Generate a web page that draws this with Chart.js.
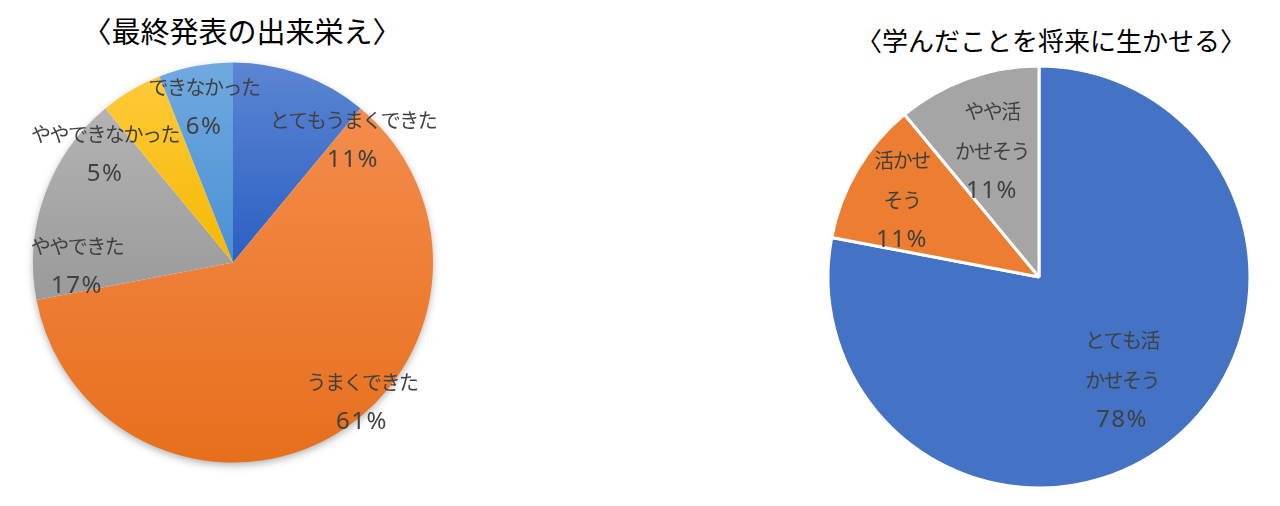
<!DOCTYPE html>
<html lang="ja">
<head>
<meta charset="UTF-8">
<title>最終発表の出来栄え / 学んだことを将来に生かせる</title>
<script src="https://cdn.jsdelivr.net/npm/chart.js"></script>
<style>
    body {
        margin: 0;
        background: #fff;
        font-family: 'Noto Sans CJK JP', 'Noto Sans', sans-serif;
    }
    .stage {
        position: relative;
        width: 1280px;
        height: 506px;
        overflow: hidden;
    }
    .title {
        position: absolute;
        color: #000;
        white-space: nowrap;
        transform: translate(-50%, -50%);
    }
    .pie-box {
        position: absolute;
    }
</style>
</head>
<body>
<div class="stage">
    <div class="title" style="left:242px; top:30px; font-size:29px;">〈最終発表の出来栄え〉</div>
    <div class="title" style="left:1051px; top:39px; font-size:26px;">〈学んだことを将来に生かせる〉</div>

    <div class="pie-box" style="left:0; top:40px; width:466px; height:445px;">
        <canvas id="resultChart"></canvas>
    </div>
    <div class="pie-box" style="left:809px; top:52px; width:460px; height:450px;">
        <canvas id="futureChart"></canvas>
    </div>
</div>

<script>
    // 最終発表の出来栄え
    const resultLabels = ['とてもうまくできた', 'うまくできた', 'ややできた', 'ややできなかった', 'できなかった'];
    const resultValues = [11, 61, 17, 5, 6];

    // 学んだことを将来に生かせる
    const futureLabels = ['とても活かせそう', '活かせそう', 'やや活かせそう'];
    const futureValues = [78, 11, 11];
    // how the category names wrap inside the slices
    const futureLabelLines = [['とても活', 'かせそう'], ['活かせ', 'そう'], ['やや活', 'かせそう']];

    // label block centres, relative to the pie centre
    const resultLabelOffsets = [[120, -122], [129, 140], [-156, 4], [-128, -108], [-29, -155]];
    const futureLabelOffsets = [[83, 103], [-137, -77], [-47, -126]];

    // light (top) / dark (bottom) shades for the left pie's gradient
    const resultShades = [
        ['#5c86d3', '#2c5fc4'],
        ['#f48c4c', '#e76f1c'],
        ['#b3b3b3', '#9a9a9a'],
        ['#ffca3a', '#f5b800'],
        ['#70a9e0', '#4b90d4']
    ];
    const futureColors = ['#4472c4', '#ed7d31', '#a5a5a5'];

    const labelColor = '#404040';

    function percent(values, i) {
        const total = values.reduce((a, b) => a + b, 0);
        return Math.round(values[i] / total * 100) + '%';
    }

    // vertical gradient fitted to each slice's own height
    function sliceGradient(context) {
        const chart = context.chart;
        const area = chart.chartArea;
        const shade = resultShades[context.dataIndex];
        if (!area) return shade[1];
        const data = context.dataset.data;
        const total = data.reduce((a, b) => a + b, 0);
        let before = 0;
        for (let i = 0; i < context.dataIndex; i++) before += data[i];
        const a0 = before / total * Math.PI * 2;
        const a1 = (before + data[context.dataIndex]) / total * Math.PI * 2;
        const cx = (area.left + area.right) / 2;
        const cy = (area.top + area.bottom) / 2;
        const r = context.dataset.radius;
        const ys = [cy, cy - r * Math.cos(a0), cy - r * Math.cos(a1)];
        if (a0 <= 0.0001 || a1 >= Math.PI * 2 - 0.0001) ys.push(cy - r);
        if (a0 <= Math.PI && a1 >= Math.PI) ys.push(cy + r);
        const g = chart.ctx.createLinearGradient(0, Math.min(...ys), 0, Math.max(...ys));
        g.addColorStop(0, shade[0]);
        g.addColorStop(1, shade[1]);
        return g;
    }

    // writes the category name and percentage inside / next to each slice
    const sliceLabels = {
        id: 'sliceLabels',
        afterDatasetsDraw(chart, args, opts) {
            const ctx = chart.ctx;
            const meta = chart.getDatasetMeta(0);
            ctx.save();
            ctx.fillStyle = labelColor;
            ctx.textAlign = 'center';
            ctx.textBaseline = 'middle';
            meta.data.forEach((arc, i) => {
                const lines = opts.lines[i];
                const n = lines.length + 1;
                const x = arc.x + opts.offsets[i][0];
                const y = arc.y + opts.offsets[i][1] - (n - 1) * opts.lineGap / 2;
                ctx.font = '20px "Noto Sans CJK JP", sans-serif';
                ctx.letterSpacing = '-1.5px';
                lines.forEach((t, k) => ctx.fillText(t, x, y + k * opts.lineGap));
                ctx.font = '24px "Noto Sans", "Noto Sans CJK JP", sans-serif';
                ctx.letterSpacing = '1.5px';
                ctx.fillText(percent(opts.values, i), x, y + lines.length * opts.lineGap);
            });
            ctx.restore();
        }
    };

    // soft drop shadow under the whole pie
    const pieShadow = {
        id: 'pieShadow',
        beforeDatasetsDraw(chart, args, opts) {
            if (!opts.enabled) return;
            const arc = chart.getDatasetMeta(0).data[0];
            if (!arc) return;
            const ctx = chart.ctx;
            ctx.save();
            ctx.shadowColor = 'rgba(0,0,0,0.35)';
            ctx.shadowBlur = 9;
            ctx.shadowOffsetY = 3;
            ctx.fillStyle = '#ffffff';
            ctx.beginPath();
            ctx.arc(arc.x, arc.y, arc.outerRadius - 1, 0, Math.PI * 2);
            ctx.fill();
            ctx.restore();
        }
    };

    const baseOptions = {
        responsive: true,
        maintainAspectRatio: false,
        animation: false,
        layout: { padding: 0 }
    };

    new Chart(document.getElementById('resultChart'), {
        type: 'pie',
        data: {
            labels: resultLabels,
            datasets: [{
                data: resultValues,
                backgroundColor: sliceGradient,
                borderWidth: 0,
                radius: 200
            }]
        },
        options: {
            ...baseOptions,
            plugins: {
                legend: { display: false },
                tooltip: { enabled: false },
                pieShadow: { enabled: true },
                sliceLabels: {
                    lines: resultLabels.map(l => [l]),
                    values: resultValues,
                    offsets: resultLabelOffsets,
                    lineGap: 40
                }
            }
        },
        plugins: [pieShadow, sliceLabels]
    });

    new Chart(document.getElementById('futureChart'), {
        type: 'pie',
        data: {
            labels: futureLabels,
            datasets: [{
                data: futureValues,
                backgroundColor: futureColors,
                borderColor: '#ffffff',
                borderWidth: 3,
                radius: 211
            }]
        },
        options: {
            ...baseOptions,
            plugins: {
                legend: { display: false },
                tooltip: { enabled: false },
                pieShadow: { enabled: false },
                sliceLabels: {
                    lines: futureLabelLines,
                    values: futureValues,
                    offsets: futureLabelOffsets,
                    lineGap: 40
                }
            }
        },
        plugins: [pieShadow, sliceLabels]
    });
</script>
</body>
</html>
